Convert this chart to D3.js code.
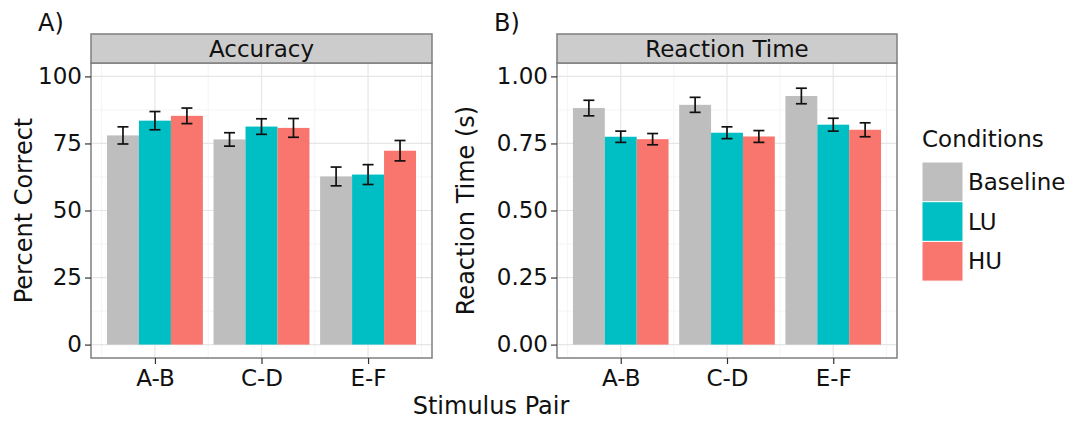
<!DOCTYPE html>
<html lang="en">
<head>
    <meta charset="utf-8" />
    <title>Accuracy and Reaction Time by Stimulus Pair</title>
    <style type="text/css">
        body { margin: 0; background: #fff; }
        svg text { font-family: "DejaVu Sans", Verdana, sans-serif; fill: #111; }
        .tick text { font-size: 23px; }
        .tick line { stroke: #333; stroke-width: 1.2px; }
        .strip-text { font-size: 23px; }
        .axis-title { font-size: 24px; }
    </style>
    <script type="text/javascript" src="https://cdn.jsdelivr.net/npm/d3@7"></script>
</head>
<body>
    <div id="chart"></div>
    <script type="text/javascript">
        // categories
        const pairs = ['A-B', 'C-D', 'E-F'];
        const conditions = ['Baseline', 'LU', 'HU'];
        const colors = ['#BEBEBE', '#00BFC4', '#F8766D'];

        // accuracy (percent correct), mean and error
        const accBaseline = [78.0, 76.5, 62.7];
        const accLU = [83.5, 81.3, 63.4];
        const accHU = [85.3, 80.8, 72.3];
        const accBaselineErr = [3.2, 2.5, 3.5];
        const accLUErr = [3.4, 2.9, 3.7];
        const accHUErr = [2.9, 3.5, 3.8];

        // reaction time (s), mean and error
        const rtBaseline = [0.882, 0.894, 0.927];
        const rtLU = [0.775, 0.790, 0.820];
        const rtHU = [0.766, 0.776, 0.801];
        const rtBaselineErr = [0.029, 0.028, 0.029];
        const rtLUErr = [0.021, 0.022, 0.024];
        const rtHUErr = [0.021, 0.022, 0.026];

        // tick labels
        const accTicks = [0, 25, 50, 75, 100];
        const rtTicks = [0, 0.25, 0.5, 0.75, 1.0];

        const width = 1080, height = 421;
        const panelTop = 63, panelBottom = 358, stripTop = 34;

        const svg = d3.select('#chart').append('svg')
            .attr('width', width)
            .attr('height', height);

        function toRows(means, errs) {
            let rows = [];
            pairs.forEach((p, i) => {
                conditions.forEach((c, j) => {
                    rows.push({pair: p, cond: c, ci: j, mean: means[j][i], err: errs[j][i]});
                });
            });
            return rows;
        }

        function drawPanel(opts) {
            let g = svg.append('g');

            let x = d3.scalePoint().domain(pairs).range([opts.left, opts.right]).padding(0.6);
            let step = x.step();
            let xc = d3.scaleBand().domain(conditions).range([-0.45 * step, 0.45 * step]);
            let y = d3.scaleLinear().domain(opts.domain).range([panelBottom, panelTop]);

            // panel background + grid
            g.append('rect')
                .attr('x', opts.left).attr('y', panelTop)
                .attr('width', opts.right - opts.left).attr('height', panelBottom - panelTop)
                .style('fill', '#fff');

            let minorY = [];
            for (let i = 0; i < opts.ticks.length - 1; i++) minorY.push((opts.ticks[i] + opts.ticks[i + 1]) / 2);
            g.selectAll('.minor-y').data(minorY).enter().append('line')
                .attr('x1', opts.left).attr('x2', opts.right)
                .attr('y1', d => y(d)).attr('y2', d => y(d))
                .style('stroke', '#f4f4f4').style('stroke-width', 1);
            // minor vertical lines half a step either side of each category
            let minorX = [-0.5, 0.5, 1.5, 2.5];
            g.selectAll('.minor-x').data(minorX).enter().append('line')
                .attr('x1', d => x(pairs[0]) + step * d)
                .attr('x2', d => x(pairs[0]) + step * d)
                .attr('y1', panelTop).attr('y2', panelBottom)
                .style('stroke', '#f4f4f4').style('stroke-width', 1);
            g.selectAll('.major-y').data(opts.ticks).enter().append('line')
                .attr('x1', opts.left).attr('x2', opts.right)
                .attr('y1', d => y(d)).attr('y2', d => y(d))
                .style('stroke', '#e6e6e6').style('stroke-width', 1.2);
            g.selectAll('.major-x').data(pairs).enter().append('line')
                .attr('x1', d => x(d)).attr('x2', d => x(d))
                .attr('y1', panelTop).attr('y2', panelBottom)
                .style('stroke', '#e6e6e6').style('stroke-width', 1.2);

            let rows = toRows(opts.means, opts.errs);

            // bars
            g.selectAll('.bar').data(rows).enter().append('rect')
                .attr('x', d => x(d.pair) + xc(d.cond))
                .attr('width', xc.bandwidth())
                .attr('y', d => y(d.mean))
                .attr('height', d => y(0) - y(d.mean))
                .style('fill', d => colors[d.ci]);

            // error bars
            let eb = g.selectAll('.err').data(rows).enter().append('g')
                .attr('transform', d => 'translate(' + (x(d.pair) + xc(d.cond) + xc.bandwidth() / 2) + ',0)');
            eb.append('line')
                .attr('y1', d => y(d.mean - d.err)).attr('y2', d => y(d.mean + d.err));
            eb.append('line').attr('x1', -5.5).attr('x2', 5.5)
                .attr('y1', d => y(d.mean + d.err)).attr('y2', d => y(d.mean + d.err));
            eb.append('line').attr('x1', -5.5).attr('x2', 5.5)
                .attr('y1', d => y(d.mean - d.err)).attr('y2', d => y(d.mean - d.err));
            eb.selectAll('line').style('stroke', '#111').style('stroke-width', 1.7);

            // panel border
            g.append('rect')
                .attr('x', opts.left).attr('y', panelTop)
                .attr('width', opts.right - opts.left).attr('height', panelBottom - panelTop)
                .style('fill', 'none').style('stroke', '#7f7f7f').style('stroke-width', 1.5);

            // strip
            g.append('rect')
                .attr('x', opts.left).attr('y', stripTop)
                .attr('width', opts.right - opts.left).attr('height', panelTop - stripTop)
                .style('fill', '#cccccc').style('stroke', '#7f7f7f').style('stroke-width', 1.5);
            g.append('text')
                .attr('class', 'strip-text')
                .attr('x', (opts.left + opts.right) / 2)
                .attr('y', (stripTop + panelTop) / 2 + 8)
                .style('text-anchor', 'middle')
                .text(opts.strip);

            // axes
            let yAxis = g.append('g')
                .attr('transform', 'translate(' + opts.left + ',0)')
                .call(d3.axisLeft(y).tickValues(opts.ticks).tickSize(6).tickPadding(3).tickFormat(opts.format));
            yAxis.select('.domain').remove();

            let xAxis = g.append('g')
                .attr('transform', 'translate(0,' + panelBottom + ')')
                .call(d3.axisBottom(x).tickSize(6).tickPadding(6));
            xAxis.select('.domain').remove();

            // y title
            g.append('text')
                .attr('class', 'axis-title')
                .attr('transform', 'translate(' + opts.titleX + ',' + ((panelTop + panelBottom) / 2) + ') rotate(-90)')
                .style('text-anchor', 'middle')
                .text(opts.yTitle);

            // panel tag
            g.append('text')
                .attr('class', 'axis-title')
                .attr('x', opts.tagX).attr('y', 31)
                .text(opts.tag);
        }

        drawPanel({
            left: 91, right: 432,
            domain: [-5, 105],
            ticks: accTicks,
            format: d3.format('d'),
            means: [accBaseline, accLU, accHU],
            errs: [accBaselineErr, accLUErr, accHUErr],
            strip: 'Accuracy',
            yTitle: 'Percent Correct',
            titleX: 32,
            tag: 'A)', tagX: 38
        });

        drawPanel({
            left: 557, right: 897,
            domain: [-0.05, 1.05],
            ticks: rtTicks,
            format: d3.format('.2f'),
            means: [rtBaseline, rtLU, rtHU],
            errs: [rtBaselineErr, rtLUErr, rtHUErr],
            strip: 'Reaction Time',
            yTitle: 'Reaction Time (s)',
            titleX: 474,
            tag: 'B)', tagX: 494
        });

        // shared x title
        svg.append('text')
            .attr('class', 'axis-title')
            .attr('x', 491).attr('y', 414)
            .style('text-anchor', 'middle')
            .text('Stimulus Pair');

        // legend
        let legend = svg.append('g').attr('transform', 'translate(922,162)');
        legend.append('text')
            .attr('class', 'axis-title')
            .attr('x', 0).attr('y', -15)
            .style('font-size', '23px')
            .text('Conditions');
        let keys = legend.selectAll('.key').data(conditions).enter().append('g')
            .attr('transform', (d, i) => 'translate(0,' + (i * 39.7) + ')');
        keys.append('rect')
            .attr('width', 41).attr('height', 39.7)
            .style('fill', (d, i) => colors[i])
            .style('stroke', '#fff').style('stroke-width', 1);
        keys.append('text')
            .attr('x', 46).attr('y', 28)
            .style('font-size', '23px')
            .text(d => d);
    </script>
</body>
</html>
